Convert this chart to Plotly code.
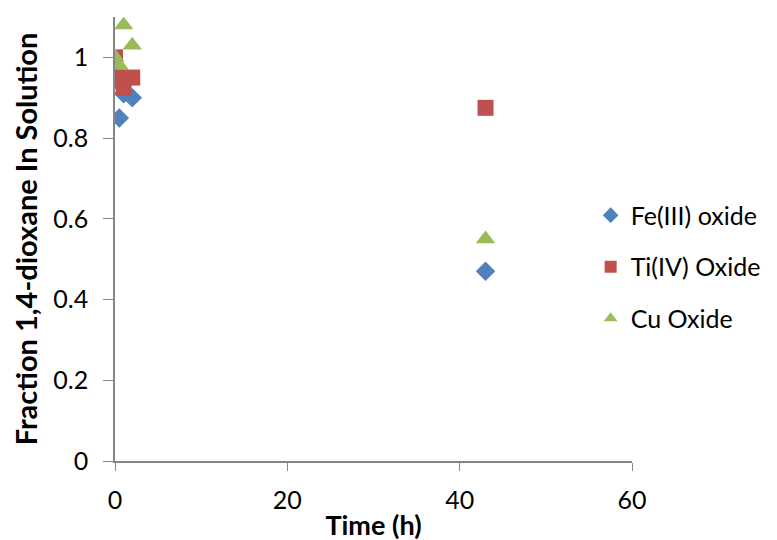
import plotly.graph_objects as go

time_h = [0, 0.5, 1, 2, 43]
fe_oxide = [0.945, 0.85, 0.91, 0.90, 0.47]
ti_oxide = [1.0, 0.955, 0.925, 0.95, 0.875]
cu_oxide = [1.0, 0.98, 1.08, 1.03, 0.55]
x_ticks = [0, 20, 40, 60]
y_ticks = [0, 0.2, 0.4, 0.6, 0.8, 1]
y_tick_labels = ["0", "0.2", "0.4", "0.6", "0.8", "1"]

FONT = "Lato, 'Open Sans', sans-serif"

fig = go.Figure()
fig.add_trace(go.Scatter(x=time_h, y=fe_oxide, mode="markers", name="Fe(III) oxide",
                         legendgroup="a",
                         marker=dict(symbol="diamond", size=15, color="#4F81BD")))
fig.add_trace(go.Scatter(x=time_h, y=ti_oxide, mode="markers", name="Ti(IV) Oxide",
                         legendgroup="b",
                         marker=dict(symbol="square", size=16, color="#C0504D")))
fig.add_trace(go.Scatter(x=time_h, y=cu_oxide, mode="markers", name="Cu Oxide",
                         legendgroup="c",
                         marker=dict(symbol="triangle-up", size=17, color="#9BBB59")))

fig.update_layout(
    width=777, height=540,
    margin=dict(l=107, r=153, t=9, b=87),
    paper_bgcolor="white", plot_bgcolor="white",
    font=dict(family=FONT, size=25, color="black"),
    showlegend=True,
    legend=dict(x=0.92, y=0.605, xanchor="left", yanchor="top",
                font=dict(size=25), tracegroupgap=16, itemsizing="constant"),
    xaxis=dict(range=[0, 60], tickvals=x_ticks, showgrid=False, zeroline=False,
               showline=True, linecolor="#868686", linewidth=1.5,
               ticks="outside", ticklen=8, tickcolor="#868686",
               ticklabelstandoff=8,
               title=dict(text="<b>Time (h)</b>", standoff=3, font=dict(size=27))),
    yaxis=dict(range=[0, 1.1], tickvals=y_ticks, ticktext=y_tick_labels, showgrid=False,
               zeroline=False, showline=True, linecolor="#868686", linewidth=1.5,
               ticks="outside", ticklen=10, tickcolor="#868686",
               ticklabelstandoff=10,
               title=dict(text="<b>Fraction 1,4-dioxane In Solution</b>", standoff=7, font=dict(size=29))),
)

fig.write_html("out.html")
